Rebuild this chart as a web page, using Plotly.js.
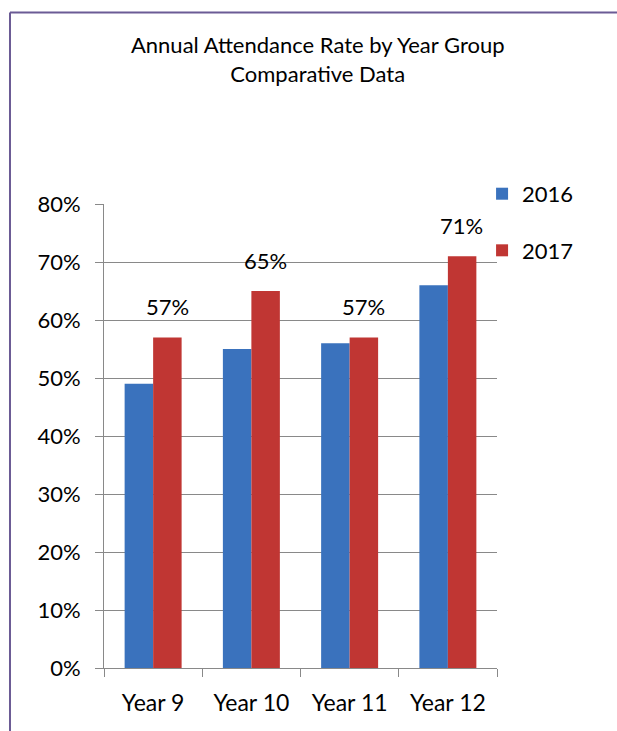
<!DOCTYPE html>
<html>
<head>
<meta charset="utf-8">
<script src="https://cdn.plot.ly/plotly-3.0.1.min.js"></script>
<style>
html,body{margin:0;padding:0;background:#fff;}
#chart{width:617px;height:731px;}
</style>
</head>
<body>
<div id="chart"></div>
<script>
const categories = ["Year 9", "Year 10", "Year 11", "Year 12"];
const series2016 = [49, 55, 56, 66];
const series2017 = [57, 65, 57, 71];
const labels2017 = ["57%", "65%", "57%", "71%"];
const yTickVals = [0, 10, 20, 30, 40, 50, 60, 70, 80];
const yTickText = ["0%", "10%", "20%", "30%", "40%", "50%", "60%", "70%", "80%"];

const FONT = "Lato, 'Open Sans', sans-serif";
const GRID = "#898989";

const traces = [
  {
    type: "bar", name: "2016", x: categories, y: series2016,
    marker: {color: "#3a72bd", line: {width: 0}},
    legendgroup: "a", hoverinfo: "x+y"
  },
  {
    type: "bar", name: "2017", x: categories, y: series2017,
    marker: {color: "#c03633", line: {width: 0}},
    legendgroup: "b", hoverinfo: "x+y"
  }
];

const annotations = categories.map((c, i) => ({
  x: c, y: series2017[i], xref: "x", yref: "y",
  text: labels2017[i], showarrow: false,
  xanchor: "center", yanchor: "bottom",
  xshift: 14, yshift: 15,
  font: {family: FONT, size: 22, color: "#000"}
}));

const layout = {
  width: 617, height: 731,
  margin: {l: 104, r: 120, t: 204, b: 63, pad: 0},
  paper_bgcolor: "#fff", plot_bgcolor: "#fff",
  font: {family: FONT, size: 22, color: "#000"},
  title: {
    text: "Annual Attendance Rate by Year Group<br>Comparative Data",
    font: {family: FONT, size: 22, color: "#000"},
    xref: "container", x: 0.515, xanchor: "center",
    yref: "container", y: 0.927, yanchor: "top"
  },
  barmode: "group", bargap: 0.42, bargroupgap: 0,
  xaxis: {
    type: "category",
    showline: true, linecolor: GRID, linewidth: 1,
    ticks: "outside", tickson: "boundaries", ticklen: 8, tickcolor: GRID, tickwidth: 1,
    showgrid: false, zeroline: false,
    tickfont: {family: FONT, size: 23, color: "#000"},
    ticklabelstandoff: 14
  },
  yaxis: {
    range: [0, 80], tickvals: yTickVals, ticktext: yTickText,
    showline: true, linecolor: GRID, linewidth: 1,
    ticks: "outside", ticklen: 8, tickcolor: GRID, tickwidth: 1,
    showgrid: true, gridcolor: GRID, gridwidth: 1, zeroline: false,
    tickfont: {family: FONT, size: 22, color: "#000"},
    ticklabelstandoff: 10
  },
  legend: {
    x: 0.962, xanchor: "left", y: 1.067, yanchor: "top",
    font: {family: FONT, size: 22, color: "#000"},
    tracegroupgap: 25, traceorder: "grouped",
    bgcolor: "rgba(0,0,0,0)", itemwidth: 30
  },
  annotations: annotations,
  shapes: [
    {type: "line", xref: "paper", yref: "paper", x0: -0.2392, x1: 1.31, y0: 1.4127, y1: 1.4127,
     line: {color: "#6b5b95", width: 2}},
    {type: "line", xref: "paper", yref: "paper", x0: -0.2392, x1: -0.2392, y0: 1.4127, y1: -0.14,
     line: {color: "#6b5b95", width: 2}}
  ]
};

Plotly.newPlot("chart", traces, layout, {displayModeBar: false, staticPlot: true});
</script>
</body>
</html>
